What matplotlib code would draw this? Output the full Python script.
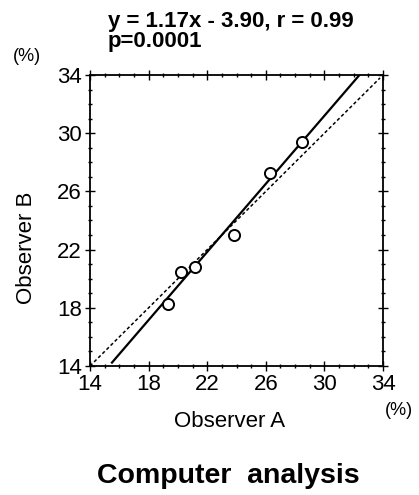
import matplotlib.pyplot as plt
from matplotlib.ticker import MultipleLocator

plt.rcParams['font.family'] = ['Liberation Sans', 'DejaVu Sans']

# readings
obs_a = [19.35, 20.2, 21.2, 23.8, 26.3, 28.5]
obs_b = [18.25, 20.45, 20.8, 23.0, 27.25, 29.4]

slope = 1.17
intercept = -3.90
fit_x = [15.5, 32.4]
ident_x = [14.0, 33.8]
ticks = [14, 18, 22, 26, 30, 34]

fig = plt.figure(figsize=(4.19, 4.95), dpi=100)
ax = fig.add_axes([0.2148, 0.2606, 0.6993, 0.5879])

ax.plot(fit_x, [slope * v + intercept for v in fit_x], color='black', lw=1.6)
ax.plot(ident_x, ident_x, color='black', lw=1.1, ls=(0, (2.2, 1.6)))
ax.plot(obs_a, obs_b, 'o', mfc='white', mec='black', ms=8, mew=1.4)

ax.set_xlim(14, 34)
ax.set_ylim(14, 34)
ax.set_xticks(ticks)
ax.set_yticks(ticks)
ax.xaxis.set_minor_locator(MultipleLocator(1))
ax.yaxis.set_minor_locator(MultipleLocator(1))
ax.tick_params(which='both', direction='inout', top=True, right=True,
               width=1.0, labelsize=16, pad=2.5)
ax.tick_params(which='major', length=7)
ax.tick_params(which='minor', length=3.5)
for s in ax.spines.values():
    s.set_linewidth(1.3)

fig.text(0.2578, 0.9455, 'y = 1.17x - 3.90, r = 0.99', fontsize=16,
         fontweight='bold', va='baseline', ha='left')
fig.text(0.2578, 0.905, 'p=0.0001', fontsize=16,
         fontweight='bold', va='baseline', ha='left')
fig.text(0.0644, 0.885, '(%)', fontsize=13, ha='center', va='center')
fig.text(0.952, 0.170, '(%)', fontsize=13, ha='center', va='center')
fig.text(0.549, 0.149, 'Observer A', fontsize=16, ha='center', va='center')
fig.text(0.0644, 0.5, 'Observer B', fontsize=16, ha='center', va='center',
         rotation=90)
fig.text(0.544, 0.024, 'Computer  analysis', fontsize=20.5, fontweight='bold',
         ha='center', va='baseline')

fig.savefig('out.png', dpi=100)
